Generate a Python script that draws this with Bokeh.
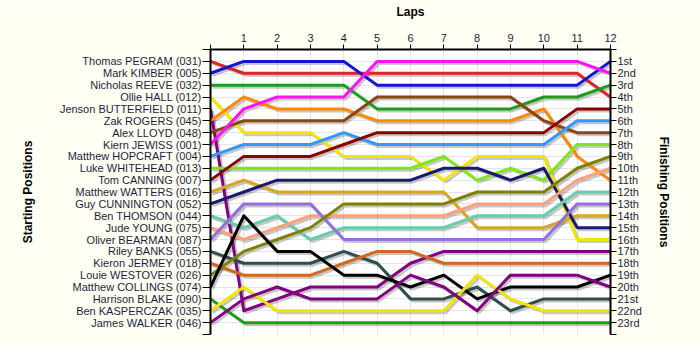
from bokeh.plotting import figure
from bokeh.models import Range1d, FixedTicker, LinearAxis, Title
from bokeh.embed import file_html
from bokeh.resources import INLINE

laps = list(range(0, 13))

drivers = [
    "Thomas PEGRAM (031)", "Mark KIMBER (005)", "Nicholas REEVE (032)", "Ollie HALL (012)",
    "Jenson BUTTERFIELD (011)", "Zak ROGERS (045)", "Alex LLOYD (048)", "Kiern JEWISS (001)",
    "Matthew HOPCRAFT (004)", "Luke WHITEHEAD (013)", "Tom CANNING (007)", "Matthew WATTERS (016)",
    "Guy CUNNINGTON (052)", "Ben THOMSON (044)", "Jude YOUNG (075)", "Oliver BEARMAN (087)",
    "Riley BANKS (055)", "Kieron JERMEY (018)", "Louie WESTOVER (026)", "Matthew COLLINGS (074)",
    "Harrison BLAKE (090)", "Ben KASPERCZAK (035)", "James WALKER (046)",
]

finish_labels = ["1st", "2nd", "3rd", "4th", "5th", "6th", "7th", "8th", "9th", "10th", "11th",
                 "12th", "13th", "14th", "15th", "16th", "17th", "18th", "19th", "20th", "21st",
                 "22nd", "23rd"]

pegram = [1, 2, 2, 2, 2, 2, 2, 2, 2, 2, 2, 2, 4]
kimber = [2, 1, 1, 1, 1, 3, 3, 3, 3, 3, 3, 3, 1]
reeve = [3, 3, 3, 3, 3, 5, 5, 5, 5, 5, 4, 4, 3]
hall = [4, 7, 7, 7, 9, 9, 9, 11, 9, 9, 9, 16, 16]
butterfield = [5, 22, 21, 20, 20, 20, 18, 17, 17, 17, 17, 17, 17]
rogers = [6, 4, 5, 5, 5, 6, 6, 6, 6, 6, 5, 9, 11]
lloyd = [7, 6, 6, 6, 6, 4, 4, 4, 4, 4, 6, 7, 7]
jewiss = [8, 5, 4, 4, 4, 1, 1, 1, 1, 1, 1, 1, 2]
hopcraft = [9, 8, 8, 8, 7, 8, 8, 8, 8, 8, 8, 6, 6]
whitehead = [10, 10, 10, 10, 10, 10, 10, 9, 11, 10, 11, 8, 8]
canning = [11, 9, 9, 9, 8, 7, 7, 7, 7, 7, 7, 5, 5]
watters = [12, 11, 12, 12, 12, 12, 12, 12, 15, 15, 15, 14, 14]
cunnington = [13, 12, 11, 11, 11, 11, 11, 10, 10, 11, 10, 15, 15]
thomson = [14, 15, 14, 16, 15, 15, 15, 15, 14, 14, 14, 12, 12]
young = [15, 16, 15, 14, 14, 14, 14, 14, 13, 13, 13, 11, 10]
bearman = [16, 13, 13, 13, 16, 16, 16, 16, 16, 16, 16, 13, 13]
banks = [17, 18, 18, 18, 17, 18, 21, 21, 20, 22, 21, 21, 21]
jermey = [18, 19, 19, 19, 18, 17, 17, 18, 18, 18, 18, 18, 18]
westover = [19, 17, 16, 15, 13, 13, 13, 13, 12, 12, 12, 10, 9]
collings = [20, 14, 17, 17, 19, 19, 20, 19, 21, 20, 20, 20, 19]
blake = [21, 23, 23, 23, 23, 23, 23, 23, 23, 23, 23, 23, 23]
kasperczak = [22, 20, 22, 22, 22, 22, 22, 22, 19, 21, 22, 22, 22]
walker = [23, 21, 20, 21, 21, 21, 19, 20, 22, 19, 19, 19, 20]

positions = [pegram, kimber, reeve, hall, butterfield, rogers, lloyd, jewiss, hopcraft, whitehead,
             canning, watters, cunnington, thomson, young, bearman, banks, jermey, westover,
             collings, blake, kasperczak, walker]

colors = ["#E32222", "#1414D2", "#1A9E1A", "#F2E600", "#800080", "#FF8A00", "#8B4513", "#FF14F0",
          "#3399FF", "#80E61A", "#8B0000", "#DAA520", "#191970", "#66CDAA", "#FFA07A", "#9370DB",
          "#2F4F4F", "#D2691E", "#808000", "#000000", "#1A9E1A", "#F2E600", "#800080"]

n = len(drivers)
FONT = "Liberation Sans"
TXT = "#1E1E3C"

p = figure(width=700, height=345, output_backend="svg", toolbar_location=None,
           x_range=Range1d(0, 12), y_range=Range1d(n + 1, 0),
           x_axis_location="above", min_border_left=210, min_border_right=90,
           min_border_top=49, min_border_bottom=11)
p.background_fill_color = "#FFFFFF"
p.border_fill_color = "#FFFFF4"
p.outline_line_color = None

# shadows then lines
dx = 2.0 / 33.33
dy = 2.0 / 11.875
for pos in positions:
    p.line([x + dx for x in laps], [y + dy for y in pos], line_color="#000000",
           line_alpha=0.22, line_width=3)
for pos, c in zip(positions, colors):
    p.line(laps, pos, line_color=c, line_width=3, line_join="round")

yticks = list(range(0, n + 2))

# top axis
xa = p.xaxis[0]
xa.ticker = FixedTicker(ticks=laps)
xa.major_label_overrides = {0: ""}
xa.axis_label = "Laps"

# left axis
ya = p.yaxis[0]
ya.ticker = FixedTicker(ticks=yticks)
ov = {0: "", n + 1: ""}
for i, name in enumerate(drivers):
    ov[i + 1] = name
ya.major_label_overrides = ov
ya.axis_label = "Starting Positions"

# right axis
ra = LinearAxis(ticker=FixedTicker(ticks=yticks))
ov2 = {0: "", n + 1: ""}
for i, lab in enumerate(finish_labels):
    ov2[i + 1] = lab
ra.major_label_overrides = ov2
p.add_layout(ra, "right")

rt = Title(text="Finishing Positions", align="center", text_font=FONT,
           text_font_size="12px", text_font_style="bold", text_color="#000000",
           standoff=24, offset=0)
p.add_layout(rt, "right")

for ax in [xa, ya, ra]:
    ax.minor_tick_line_color = None
    ax.axis_line_color = "#000000"
    ax.axis_line_width = 2
    ax.major_tick_line_color = "#000000"
    ax.major_tick_line_width = 1
    ax.major_tick_in = 0
    ax.major_label_text_font = FONT
    ax.major_label_text_font_size = "11px"
    ax.major_label_text_color = TXT
    ax.axis_label_text_font = FONT
    ax.axis_label_text_font_size = "12px"
    ax.axis_label_text_font_style = "bold"
    ax.axis_label_text_color = "#000000"

xa.major_tick_out = 5
xa.major_label_standoff = 3
xa.axis_label_standoff = 12
ya.major_tick_out = 8
ya.major_label_standoff = 1
ya.axis_label_standoff = 22
ra.major_tick_out = 6
ra.major_label_standoff = 1

p.xgrid.ticker = FixedTicker(ticks=laps)
p.ygrid.ticker = FixedTicker(ticks=yticks)
p.xgrid.grid_line_color = "#E4E4EA"
p.ygrid.grid_line_color = "#E4E4EA"

open("out.html", "w").write(file_html(p, INLINE))
